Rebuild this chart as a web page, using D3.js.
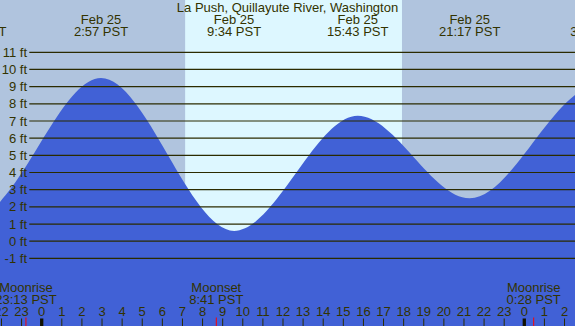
<!DOCTYPE html>
<html>
<head>
<meta charset="utf-8">
<script src="https://cdn.jsdelivr.net/npm/d3@7"></script>
<style>
  html, body { margin: 0; padding: 0; background: #b0c4de; }
  svg { display: block; }
  text { font-family: "Liberation Sans", Arial, sans-serif; font-size: 13px; fill: #333300; }
</style>
</head>
<body>
<svg id="chart" width="575" height="326"></svg>
<script>
// ---------- data ----------
const title = "La Push, Quillayute River, Washington";
// tide extremes (PST, stored as UTC clock values); first and last lie outside the view
const tideTimes = ["2000-02-24T14:20", "2000-02-24T20:43", "2000-02-25T02:57", "2000-02-25T09:34", "2000-02-25T15:43", "2000-02-25T21:17", "2000-02-26T03:38", "2000-02-26T10:15"];
const tideHeights = [7.6, 1.5, 9.5, 0.6, 7.3, 2.5, 9.05, 0.4];
// daylight
const sunrise = "2000-02-25T07:08";
const sunset = "2000-02-25T17:55";
// moon events
const moonNames = ["Moonrise", "Moonset", "Moonrise"];
const moonTimes = ["2000-02-24T23:13", "2000-02-25T08:41", "2000-02-26T00:28"];
// axis ticks
const heightTicks = [-1, 0, 1, 2, 3, 4, 5, 6, 7, 8, 9, 10, 11];
const hourStart = "2000-02-24T22:00";
const hourEnd = "2000-02-26T02:00";

// ---------- setup ----------
const W = 575, H = 326;
const parse = s => new Date(s + ":00Z");
const svg = d3.select("#chart");

const x = d3.scaleUtc()
  .domain([parse("2000-02-25T00:00"), parse("2000-02-26T00:00")])
  .range([41.7, 524.3]);
const y = d3.scaleLinear().domain([0, 11]).range([241.2, 52.3]);

const fmtDay = d3.utcFormat("%b %d");
const fmtTime = d3.utcFormat("%-H:%M PST");

// background: night + day
svg.append("rect").attr("x", 0).attr("y", 0).attr("width", W).attr("height", H).attr("fill", "#b0c4de");
svg.append("rect")
  .attr("x", x(parse(sunrise))).attr("y", 0)
  .attr("width", x(parse(sunset)) - x(parse(sunrise))).attr("height", H)
  .attr("fill", "#ddf7ff");

// tide area
const tide = tideTimes.map((t, i) => ({ t: parse(t), h: tideHeights[i] }));
const area = d3.area()
  .x(d => x(d.t))
  .y0(H)
  .y1(d => y(d.h))
  .curve(d3.curveMonotoneX);
svg.append("defs").append("clipPath").attr("id", "clip")
  .append("rect").attr("width", W).attr("height", H);
svg.append("path")
  .datum(tide)
  .attr("clip-path", "url(#clip)")
  .attr("d", area)
  .attr("fill", "#4161d6");

// height grid
const grid = svg.append("g");
heightTicks.forEach(v => {
  grid.append("line")
    .attr("x1", 29.3).attr("x2", W)
    .attr("y1", y(v)).attr("y2", y(v))
    .attr("stroke", "#2b2b00").attr("stroke-width", 1.2);
  grid.append("text")
    .attr("x", 27).attr("y", y(v) + 4.6)
    .attr("text-anchor", "end")
    .text(v + " ft");
});

// title
svg.append("text").attr("x", 287.5).attr("y", 12).attr("text-anchor", "middle").text(title);

// tide event labels (only those near the view)
tide.slice(1, -1).forEach(d => {
  const cx = x(d.t);
  svg.append("text").attr("x", cx).attr("y", 24).attr("text-anchor", "middle").text(fmtDay(d.t));
  svg.append("text").attr("x", cx).attr("y", 36).attr("text-anchor", "middle").text(fmtTime(d.t));
});

// moon labels
moonTimes.forEach((t, i) => {
  const d = parse(t), cx = x(d);
  svg.append("text").attr("x", cx).attr("y", 292).attr("text-anchor", "middle").text(moonNames[i]);
  svg.append("text").attr("x", cx).attr("y", 304).attr("text-anchor", "middle").text(fmtTime(d));
});

// hour axis
const hours = d3.utcHour.range(parse(hourStart), d3.utcHour.offset(parse(hourEnd), 1));
const hg = svg.append("g");
hours.forEach(d => {
  const cx = x(d);
  const midnight = d.getUTCHours() === 0;
  hg.append("line")
    .attr("x1", cx).attr("x2", cx).attr("y1", 318.5).attr("y2", H)
    .attr("stroke", midnight ? "#111100" : "#2b2b00")
    .attr("stroke-width", midnight ? 3.3 : 1);
  hg.append("text").attr("x", cx).attr("y", 316).attr("text-anchor", "middle").text(d.getUTCHours());
});
// moon event ticks
moonTimes.forEach(t => {
  const cx = x(parse(t));
  hg.append("line")
    .attr("x1", cx).attr("x2", cx).attr("y1", 317.5).attr("y2", H)
    .attr("stroke", "#ff0000").attr("stroke-width", 1);
});
</script>
</body>
</html>
